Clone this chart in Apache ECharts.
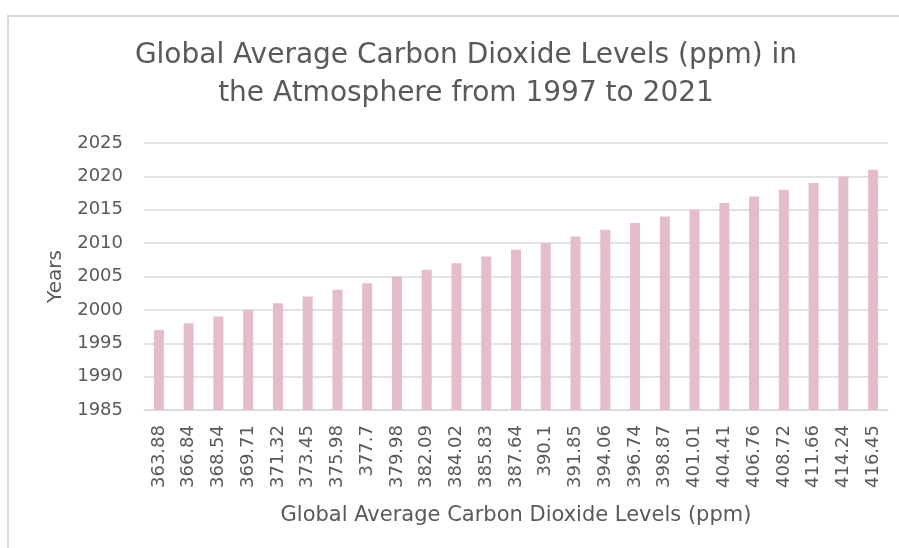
<!DOCTYPE html>
<html>
<head>
<meta charset="utf-8">
<script src="https://cdn.jsdelivr.net/npm/echarts@6/dist/echarts.min.js"></script>
<style>
  html, body { margin: 0; padding: 0; background: #ffffff; }
  #chart { width: 899px; height: 548px; }
</style>
</head>
<body>
<div id="chart"></div>
<script>
// CO2 concentration (ppm) per year, used as category labels
const co2Levels = ['363.88', '366.84', '368.54', '369.71', '371.32', '373.45', '375.98', '377.7',
  '379.98', '382.09', '384.02', '385.83', '387.64', '390.1', '391.85', '394.06', '396.74',
  '398.87', '401.01', '404.41', '406.76', '408.72', '411.66', '414.24', '416.45'];
// Year that each level was recorded
const years = [1997, 1998, 1999, 2000, 2001, 2002, 2003, 2004, 2005, 2006, 2007, 2008, 2009,
  2010, 2011, 2012, 2013, 2014, 2015, 2016, 2017, 2018, 2019, 2020, 2021];

const titleLines = ['Global Average Carbon Dioxide Levels (ppm) in', 'the Atmosphere from 1997 to 2021'];
const xAxisTitle = 'Global Average Carbon Dioxide Levels (ppm)';
const yAxisTitle = 'Years';

const textColor = '#595959';
const gridColor = '#d9d9d9';
const barColor = '#e5bccb';
const fontFamily = '"DejaVu Sans", sans-serif';

const chart = echarts.init(document.getElementById('chart'), null, { renderer: 'canvas' });

chart.setOption({
  backgroundColor: '#ffffff',
  animation: false,
  title: {
    text: titleLines.join('\n'),
    left: 461,
    top: 32,
    textAlign: 'center',
    textStyle: {
      color: textColor,
      fontFamily: fontFamily,
      fontWeight: 'normal',
      fontSize: 28,
      lineHeight: 38
    }
  },
  // chart-area frame: top and left edges
  graphic: [{
    type: 'polyline',
    shape: { points: [[8, 560], [8, 16], [910, 16]] },
    style: { fill: 'none', stroke: gridColor, lineWidth: 2 },
    silent: true
  }],
  grid: { left: 144, right: 11, top: 143, bottom: 138 },
  xAxis: {
    type: 'category',
    data: co2Levels,
    name: xAxisTitle,
    nameLocation: 'middle',
    nameGap: 95,
    nameTextStyle: { color: textColor, fontFamily: fontFamily, fontSize: 21 },
    axisLine: { lineStyle: { color: gridColor, width: 1.5 } },
    axisTick: { show: false },
    axisLabel: {
      color: textColor,
      fontFamily: fontFamily,
      fontSize: 18,
      rotate: 90,
      interval: 0,
      margin: 15
    }
  },
  yAxis: {
    type: 'value',
    min: 1985,
    max: 2025,
    interval: 5,
    name: yAxisTitle,
    nameLocation: 'middle',
    nameGap: 76,
    nameTextStyle: { color: textColor, fontFamily: fontFamily, fontSize: 20 },
    axisLine: { show: false },
    axisTick: { show: false },
    axisLabel: {
      color: textColor,
      fontFamily: fontFamily,
      fontSize: 18,
      margin: 21,
      formatter: function (v) { return String(v); }
    },
    splitLine: { lineStyle: { color: gridColor, width: 1.5 } }
  },
  series: [{
    type: 'bar',
    data: years,
    barWidth: 10,
    itemStyle: { color: barColor }
  }]
});
</script>
</body>
</html>
